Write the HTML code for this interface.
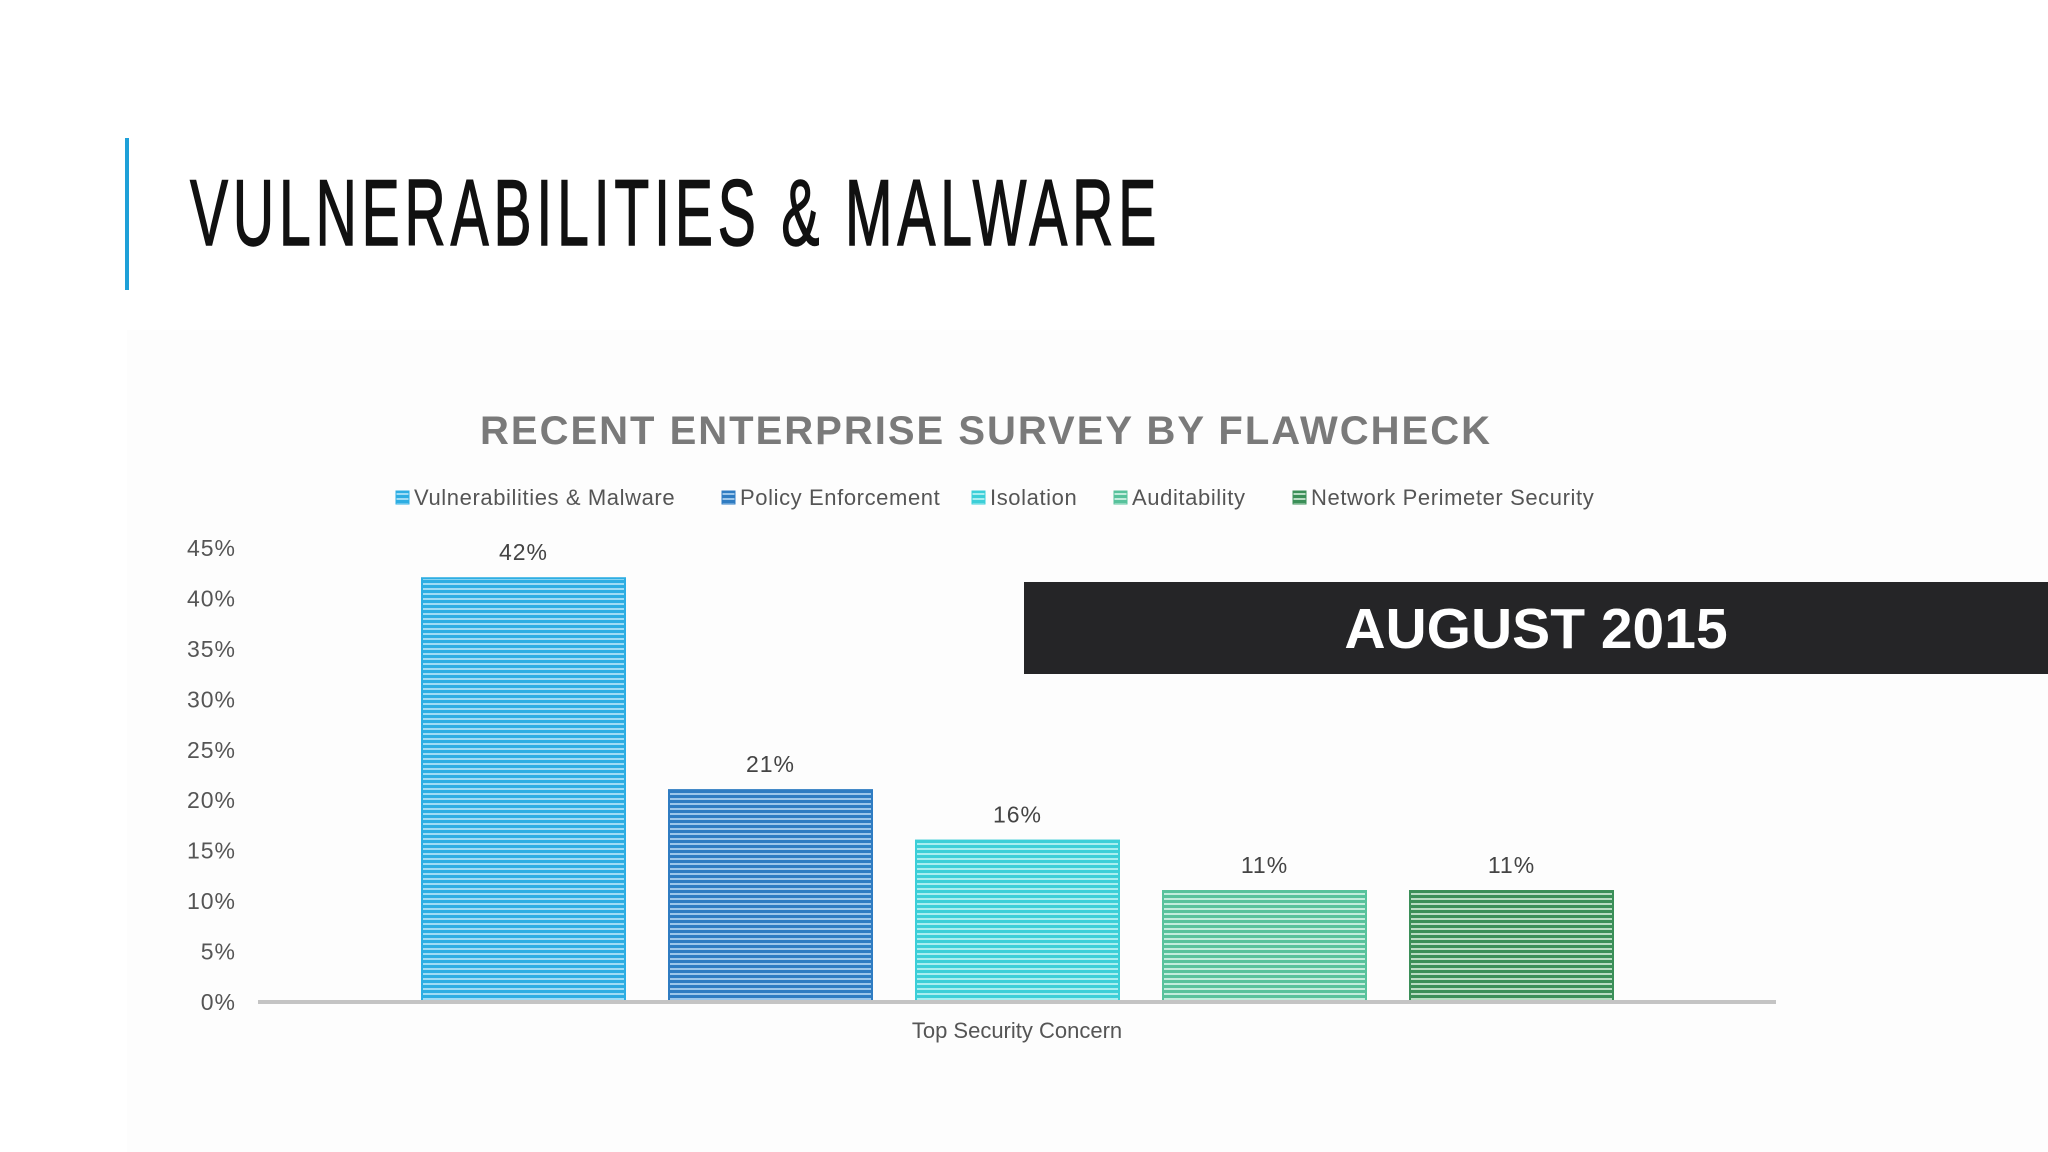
<!DOCTYPE html>
<html><head><meta charset="utf-8"><style>
html,body{margin:0;padding:0;background:#fff;}
body{width:2048px;height:1152px;overflow:hidden;position:relative;font-family:"Liberation Sans",sans-serif;}
</style></head><body>
<div style="position:absolute;left:127px;top:330px;width:1921px;height:822px;background:#fdfdfd"></div>
<div style="position:absolute;left:125px;top:138px;width:4px;height:152px;background:#1ea0d8"></div>
<div style="position:absolute;left:190px;top:166px;font-size:94px;line-height:94px;height:94px;letter-spacing:8px;color:#111;white-space:nowrap;transform:scaleX(0.607);transform-origin:left top;-webkit-text-stroke:1.5px #111;">VULNERABILITIES &amp; MALWARE</div>
<svg width="2048" height="1152" style="position:absolute;left:0;top:0" xmlns="http://www.w3.org/2000/svg">
<defs>
<pattern id="p0" width="10" height="5" patternUnits="userSpaceOnUse"><rect width="10" height="5" fill="#9fdcf5"/><rect width="10" height="3" fill="#2eaee3"/></pattern>
<pattern id="p1" width="10" height="5" patternUnits="userSpaceOnUse"><rect width="10" height="5" fill="#9cc6ea"/><rect width="10" height="3" fill="#2f7cc2"/></pattern>
<pattern id="p2" width="10" height="5" patternUnits="userSpaceOnUse"><rect width="10" height="5" fill="#a8eef0"/><rect width="10" height="3" fill="#3ccfd8"/></pattern>
<pattern id="p3" width="10" height="5" patternUnits="userSpaceOnUse"><rect width="10" height="5" fill="#c2ecdc"/><rect width="10" height="3" fill="#58c29c"/></pattern>
<pattern id="p4" width="10" height="5" patternUnits="userSpaceOnUse"><rect width="10" height="5" fill="#b8dcc2"/><rect width="10" height="3" fill="#3b8f58"/></pattern>
</defs>
<text x="986" y="444" text-anchor="middle" font-family="Liberation Sans, sans-serif" font-weight="bold" font-size="40" letter-spacing="2" fill="#7a7a7a">RECENT ENTERPRISE SURVEY BY FLAWCHECK</text>
<g id="legend"></g>
<g id="yaxis"></g>
<g id="bars"></g>
<line x1="258" y1="1002" x2="1776" y2="1002" stroke="#c4c4c4" stroke-width="4"/>
<text x="1017" y="1038" text-anchor="middle" font-family="Liberation Sans, sans-serif" font-size="22" fill="#555">Top Security Concern</text>
<rect x="1024" y="582" width="1024" height="92" fill="#252527"/>
<text x="1536" y="648" text-anchor="middle" font-family="Liberation Sans, sans-serif" font-weight="bold" font-size="57" fill="#fff">AUGUST 2015</text>
</svg>
<script>
const categories = ["Vulnerabilities & Malware","Policy Enforcement","Isolation","Auditability","Network Perimeter Security"];
const values = [42,21,16,11,11];
const valueLabels = ["42%","21%","16%","11%","11%"];
const yTicks = [0,5,10,15,20,25,30,35,40,45];
const legendX = [396,722,972,1114,1293];
const colors = ["#2eaee3","#2f7cc2","#3ccfd8","#58c29c","#3b8f58"];
const NS="http://www.w3.org/2000/svg";
const y0=1002, pxPer=10.09;
const ys=v=>y0-v*pxPer;
const xs=i=>422+i*247;
const bw=203;
function mk(t,a,p){const e=document.createElementNS(NS,t);for(const k in a)e.setAttribute(k,a[k]);p.appendChild(e);return e;}
const ya=document.getElementById('yaxis');
yTicks.forEach(t=>{const e=mk('text',{x:236,y:ys(t)+8,'text-anchor':'end','font-family':'Liberation Sans, sans-serif','font-size':23,'letter-spacing':1,fill:'#555'},ya);


e.textContent=t+'%';});
const bg=document.getElementById('bars');
values.forEach((v,i)=>{const r=mk('rect',{x:xs(i),y:ys(v),width:bw,height:v*pxPer,fill:'url(#p'+i+')',stroke:colors[i],'stroke-width':2},bg);


const l=mk('text',{x:xs(i)+bw/2,y:ys(v)-18,'text-anchor':'middle','font-family':'Liberation Sans, sans-serif','font-size':23,'letter-spacing':1,fill:'#444'},bg);


l.textContent=valueLabels[i];});
const lg=document.getElementById('legend');
categories.forEach((c,i)=>{const g=mk('g',{},lg);


mk('rect',{x:legendX[i],y:491,width:13,height:13,fill:'url(#p'+i+')',stroke:colors[i]},g);
const t=mk('text',{x:legendX[i]+18,y:505,'font-family':'Liberation Sans, sans-serif','font-size':22,'letter-spacing':0.6,fill:'#555'},g);
t.textContent=c;});
</script>
</body></html>
